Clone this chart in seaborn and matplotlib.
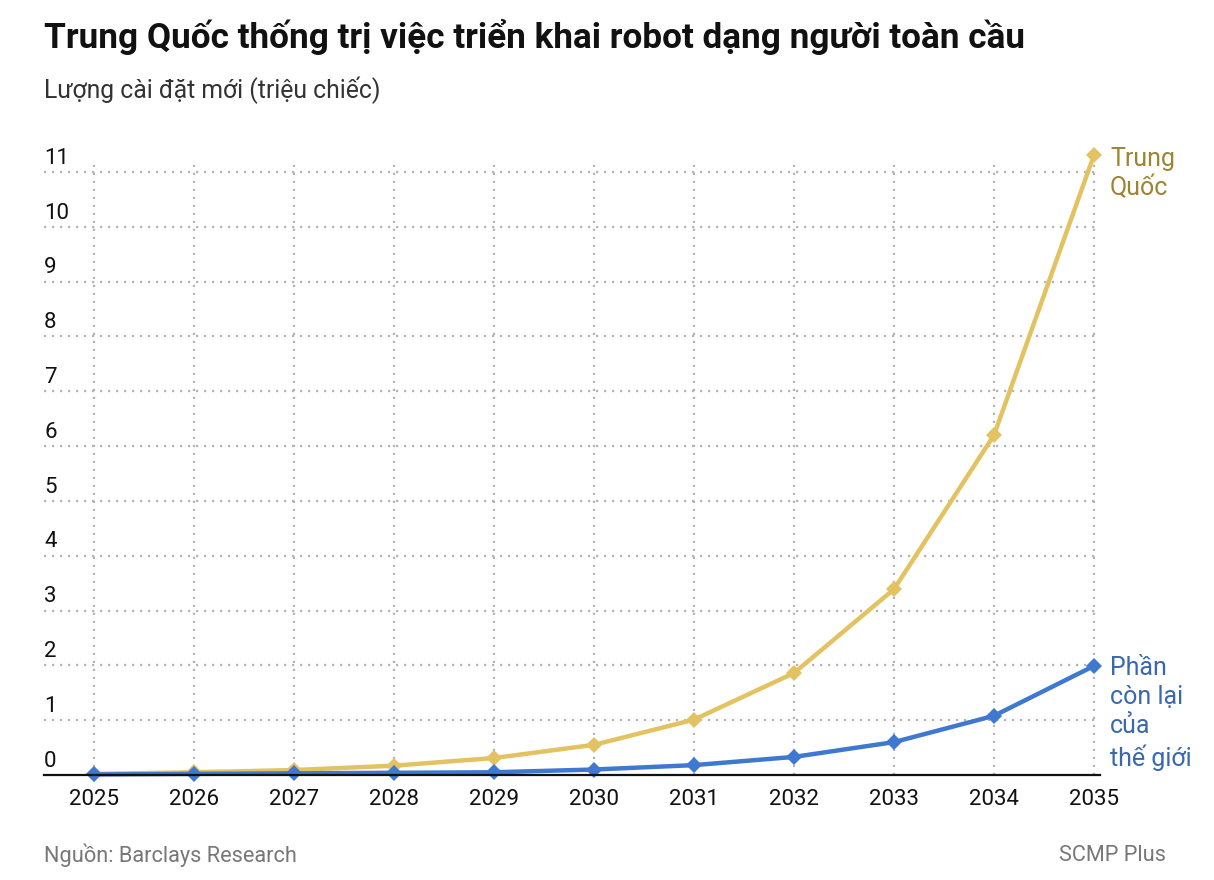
import matplotlib
matplotlib.use("Agg")
import matplotlib.pyplot as plt
import matplotlib.transforms as mtransforms
import seaborn as sns
import pandas as pd

years = [2025, 2026, 2027, 2028, 2029, 2030, 2031, 2032, 2033, 2034, 2035]
china = [0.02, 0.05, 0.09, 0.17, 0.31, 0.55, 1.01, 1.86, 3.39, 6.2, 11.31]
rest_world = [0.01, 0.02, 0.03, 0.04, 0.05, 0.1, 0.18, 0.33, 0.6, 1.08, 1.99]
y_ticks = [0, 1, 2, 3, 4, 5, 6, 7, 8, 9, 10, 11]
series_names = ["Trung Quốc", "Phần còn lại của thế giới"]
label_china = "Trung\nQuốc"
label_rest = "Phần\ncòn lại\ncủa\nthế giới"
title = "Trung Quốc thống trị việc triển khai robot dạng người toàn cầu"
subtitle = "Lượng cài đặt mới (triệu chiếc)"
source = "Nguồn: Barclays Research"
brand = "SCMP Plus"

sns.set_theme(style="white")
plt.rcParams["font.family"] = ["Roboto", "DejaVu Sans"]

df = pd.DataFrame({
    "year": years * 2,
    "value": china + rest_world,
    "series": [series_names[0]] * len(years) + [series_names[1]] * len(years),
})

col_china = "#e3c262"
col_rest = "#3f78d0"
palette = {series_names[0]: col_china, series_names[1]: col_rest}

fig = plt.figure(figsize=(12.14, 8.8), dpi=100)
ax = fig.add_axes([44 / 1214, 1 - 775 / 880, (1100 - 44) / 1214, (775 - 160) / 880])

grid_kw = dict(color="#b3b3b3", linewidth=1.6, linestyle=(0, (1, 2.6)), zorder=0)
for yt in y_ticks[1:]:
    ax.axhline(yt, **grid_kw)
for x in years:
    ax.axvline(x, **grid_kw)

sns.lineplot(data=df, x="year", y="value", hue="series", palette=palette,
             marker="D", markersize=8.5, markeredgewidth=0, linewidth=3.2,
             ax=ax, legend=False, zorder=3)
for line in ax.lines:
    line.set_clip_on(False)

ax.set_xlim(2024.5, 2035.06)
ax.set_ylim(0, 11.22)
ax.set_xticks(years)
ax.set_xticklabels([str(y) for y in years], fontsize=16, color="#111111")
ax.set_yticks(y_ticks)
ax.set_yticklabels([])
ax.tick_params(axis="y", length=0)
ax.tick_params(axis="x", length=0, pad=10)
ax.set_xlabel("")
ax.set_ylabel("")
for s in ["top", "right", "left"]:
    ax.spines[s].set_visible(False)
ax.spines["bottom"].set_color("#111111")
ax.spines["bottom"].set_linewidth(1.6)
ax.spines["bottom"].set_zorder(4)

trans = mtransforms.blended_transform_factory(ax.transAxes, ax.transData)
for yt in y_ticks:
    ax.text(0.0, yt + 0.06, str(yt), transform=trans, ha="left", va="bottom",
            fontsize=16, color="#111111")

ax.annotate(label_china, xy=(years[-1], china[-1]), xytext=(11.5, 6),
            textcoords="offset points", ha="left", va="top", fontsize=18,
            color="#9c8432", linespacing=1.28, annotation_clip=False)
ax.annotate(label_rest, xy=(years[-1], rest_world[-1]), xytext=(11.5, 7.5),
            textcoords="offset points", ha="left", va="top", fontsize=18,
            color="#3a68b0", linespacing=1.28, annotation_clip=False)

fig.text(44 / 1214, 1 - 37 / 880, title, fontsize=25.3, fontweight="bold",
         color="#111111", ha="left", va="center")
fig.text(44 / 1214, 1 - 90 / 880, subtitle, fontsize=17.8, color="#333333",
         ha="left", va="center")
fig.text(44 / 1214, 1 - 855 / 880, source, fontsize=15.7, color="#777777",
         ha="left", va="center")
fig.text(1166 / 1214, 1 - 855 / 880, brand, fontsize=15.7, color="#777777",
         ha="right", va="center")

fig.savefig("out.png", dpi=100, facecolor="white")
